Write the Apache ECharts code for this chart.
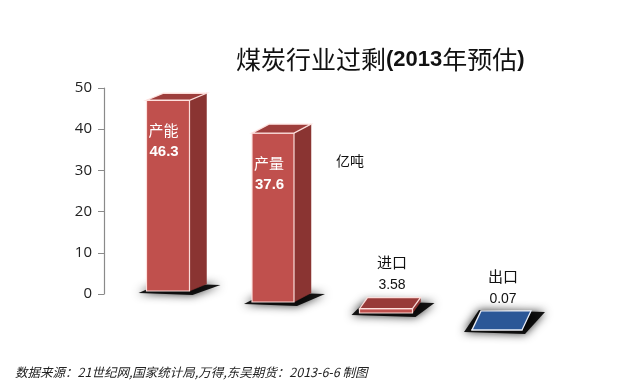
<!DOCTYPE html>
<html><head><meta charset="utf-8">
<script src="https://cdn.jsdelivr.net/npm/echarts@6/dist/echarts.min.js"></script>
<style>html,body{margin:0;padding:0;background:#fff}#c{width:640px;height:383px}</style>
</head><body><div id="c"></div>
<script>
// ---- data ----
const categories = ['产能', '产量', '进口', '出口'];
const values = [46.3, 37.6, 3.58, 0.07];
const yTicks = [0, 10, 20, 30, 40, 50];
const unitText = '亿吨';
const titleParts = ['煤炭行业过剩', '(2013', '年预估', ')'];
const sourceText = '数据来源：21世纪网,国家统计局,万得,东吴期货：2013-6-6 制图';

// ---- perspective styling (presentation only) ----
const persp = [
  {dx: 0,  by: -3, k: 1.0,  w: 43, ddx: 17, ddy: -7,  inside: true,  front: '#C0504D', side: '#8A3432', top: '#9E3E3C', edge: 'rgba(255,228,224,0.95)'},
  {dx: -5, by: 8,  k: 1.09, w: 42, ddx: 17, ddy: -9,  inside: true,  front: '#C0504D', side: '#8A3432', top: '#9E3E3C', edge: 'rgba(255,228,224,0.95)'},
  {dx: -2, by: 19, k: 0.3,  w: 53, ddx: 8,  ddy: -11, inside: false, front: '#C0504D', side: '#8A3432', top: '#983A38', edge: 'rgba(255,228,224,0.95)'},
  {dx: -1, by: 36, k: 0.3,  w: 50, ddx: 9,  ddy: -19, inside: false, front: '#3B66A8', side: '#1F3F73', top: '#2B5797', edge: 'rgba(245,248,255,0.95)'}
];

const chart = echarts.init(document.getElementById('c'), null, {renderer: 'canvas'});

function renderItem(params, api) {
  const i = api.value(0), v = api.value(1);
  const s = persp[i];
  const c0 = api.coord([i, 0]);
  const c1 = api.coord([i, v]);
  const h = (c0[1] - c1[1]) * s.k;
  const xl = c0[0] + s.dx - s.w / 2, xr = xl + s.w;
  const yb = c0[1] + s.by, yt = yb - h;
  const dx = s.ddx, dy = s.ddy;
  const children = [];
  // shadow
  children.push({type: 'polygon', shape: {points: [[xl - 8, yb + 2], [xr + 3, yb + 4], [xr + dx + 14, yb + dy + 1], [xl + dx - 2, yb + dy - 1]]},
    style: {fill: 'rgba(0,0,0,0.9)', shadowBlur: 10, shadowColor: 'rgba(0,0,0,0.9)'}});
  // side face
  children.push({type: 'polygon', shape: {points: [[xr, yb], [xr + dx, yb + dy], [xr + dx, yt + dy], [xr, yt]]},
    style: {fill: s.side, stroke: s.side, lineWidth: 0.5}});
  // front face
  children.push({type: 'polygon', shape: {points: [[xl, yb], [xr, yb], [xr, yt], [xl, yt]]},
    style: {fill: s.front, stroke: s.edge, lineWidth: 1.2}});
  // top face
  children.push({type: 'polygon', shape: {points: [[xl, yt], [xr, yt], [xr + dx, yt + dy], [xl + dx, yt + dy]]},
    style: {fill: s.top, stroke: s.edge, lineWidth: 1.3}});
  const name = categories[i];
  const valStr = String(values[i]);
  if (s.inside) {
    children.push({type: 'text', style: {text: name, x: xl + 2, y: yt + 30, fill: '#fff', font: '15px "Noto Sans CJK SC", sans-serif', verticalAlign: 'middle', align: 'left'}});
    children.push({type: 'text', style: {text: valStr, x: xl + 3, y: yt + 52, fill: '#fff', font: 'bold 15px "Liberation Sans", sans-serif', verticalAlign: 'middle', align: 'left'}});
  } else {
    const cx = (xl + xr) / 2 + 6;
    const by = yt + dy;
    children.push({type: 'text', style: {text: name, x: cx, y: by - 35, fill: '#111', font: '15px "Noto Sans CJK SC", sans-serif', verticalAlign: 'middle', align: 'center'}});
    children.push({type: 'text', style: {text: valStr, x: cx, y: by - 12, fill: '#111', font: '14px "Liberation Sans", sans-serif', verticalAlign: 'middle', align: 'center'}});
  }
  return {type: 'group', children};
}

chart.setOption({
  animation: false,
  backgroundColor: '#fff',
  title: [{
    text: '{c|' + titleParts[0] + '}{b|' + titleParts[1] + '}{c|' + titleParts[2] + '}{b|' + titleParts[3] + '}',
    left: 231, top: 42,
    textStyle: {rich: {
      c: {fontSize: 25, fontFamily: '"Noto Sans CJK SC", sans-serif', color: '#111', fontWeight: 'normal'},
      b: {fontSize: 22, fontFamily: '"Liberation Sans", sans-serif', color: '#111', fontWeight: 'bold'}
    }}
  }, {
    text: sourceText,
    left: 10, top: 361,
    textStyle: {fontSize: 12.5, fontStyle: 'italic', fontWeight: 'normal', color: '#222', fontFamily: '"Noto Sans CJK SC", sans-serif'}
  }],
  graphic: [{type: 'text', left: 336, top: 154, style: {text: unitText, font: '14px "Noto Sans CJK SC", sans-serif', fill: '#111'}}],
  grid: {left: 113, right: 87, top: 88, bottom: 89},
  xAxis: {type: 'category', data: categories, show: false, boundaryGap: true},
  yAxis: {
    type: 'value', min: yTicks[0], max: yTicks[yTicks.length - 1], interval: 10, offset: 9,
    axisLine: {show: true, lineStyle: {color: '#8a8a8a', width: 1.2}},
    axisTick: {show: true, length: 6, lineStyle: {color: '#8a8a8a'}},
    splitLine: {show: false},
    axisLabel: {margin: 12, fontSize: 15, color: '#222', fontFamily: '"Open Sans", sans-serif'}
  },
  series: [{
    type: 'custom',
    renderItem,
    data: values.map((v, i) => [i, v]),
    clip: false
  }]
});
</script></body></html>
